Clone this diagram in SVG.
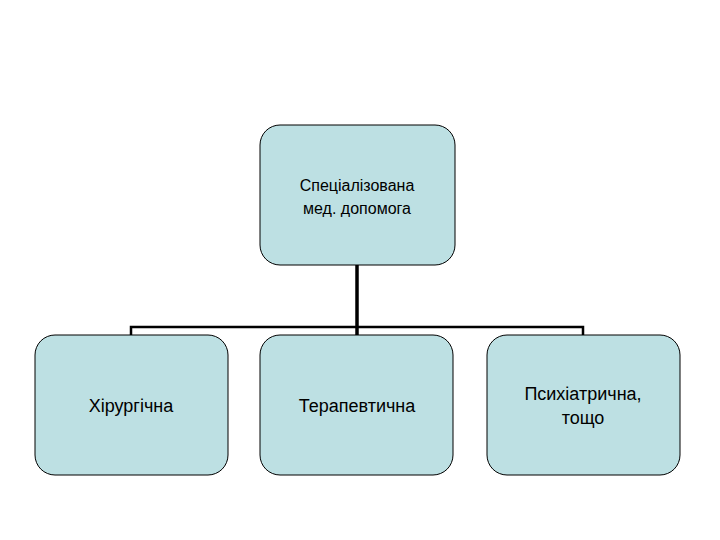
<svg xmlns="http://www.w3.org/2000/svg" width="720" height="540" viewBox="0 0 720 540">
<style>
.box{fill:#bde0e3;stroke:#000;stroke-width:1}
.t{font-family:"Liberation Sans",Arial,sans-serif;font-size:18px;fill:#000;text-anchor:middle}
.s{font-size:16px}
.c{fill:none;stroke:#000}
</style>
<rect width="720" height="540" fill="#fff"/>
<g id="connectors">
<line class="c" x1="357" y1="265" x2="357" y2="335" stroke-width="3.5"/>
<polyline class="c" points="131,335 131,327 583,327 583,335" stroke-width="2.5"/>
</g>
<g id="top"><rect class="box" x="260" y="125" width="195" height="140" rx="20"/>
<text class="t s" x="357" y="191">Спеціалізована</text><text class="t s" x="357" y="214">мед. допомога</text></g>
<g id="n1"><rect class="box" x="35" y="335" width="193" height="140" rx="20"/>
<text class="t" x="131" y="412">Хірургічна</text></g>
<g id="n2"><rect class="box" x="260" y="335" width="193" height="140" rx="20"/>
<text class="t" x="357" y="412">Терапевтична</text></g>
<g id="n3"><rect class="box" x="487" y="335" width="193" height="140" rx="20"/>
<text class="t" x="583" y="400">Психіатрична,</text><text class="t" x="583" y="424">тощо</text></g>
</svg>
